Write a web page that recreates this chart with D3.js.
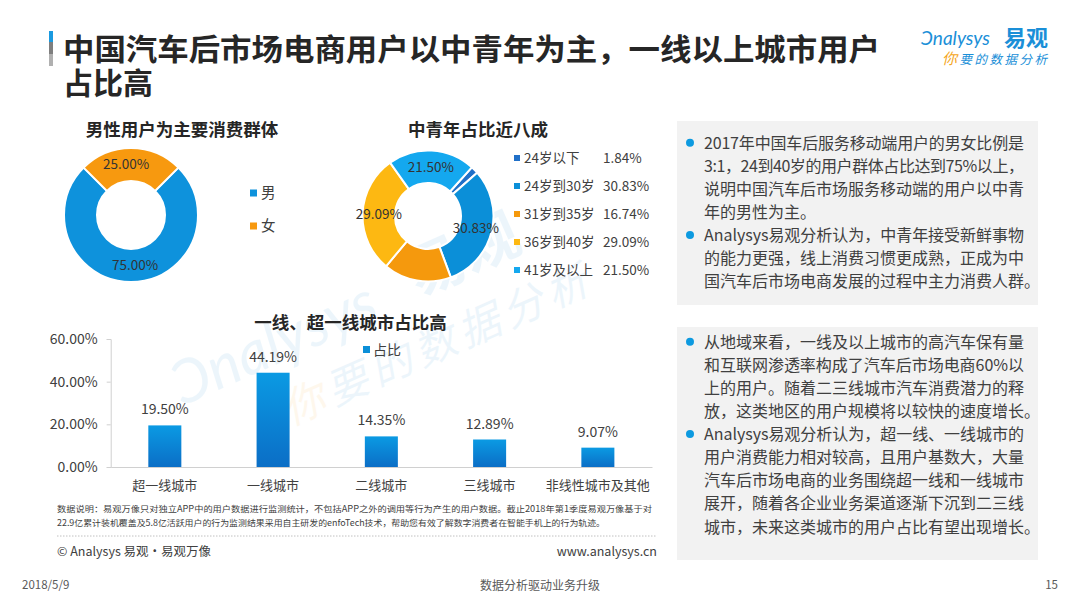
<!DOCTYPE html>
<html><head><meta charset="utf-8">
<script src="https://cdn.jsdelivr.net/npm/d3@7"></script>
<style>
html,body{margin:0;padding:0;background:#fff;}
svg{display:block;font-family:"Noto Sans CJK SC","Noto Sans",sans-serif;}
</style></head>
<body>
<svg id="c" width="1080" height="608"></svg>
<script>
// ---------- data ----------
const genderCats = ["男", "女"];
const genderVals = [75.00, 25.00];
const ageCats = ["24岁以下", "24岁到30岁", "31岁到35岁", "36岁到40岁", "41岁及以上"];
const ageVals = [1.84, 30.83, 16.74, 29.09, 21.50];
const ageShowLabel = [false, true, false, true, true];
const cityCats = ["超一线城市", "一线城市", "二线城市", "三线城市", "非线性城市及其他"];
const cityVals = [19.50, 44.19, 14.35, 12.89, 9.07];
const yTicks = [0, 20, 40, 60];
const titleLines = ["中国汽车后市场电商用户以中青年为主，一线以上城市用户", "占比高"];
const panel1 = [
  ["2017年中国车后服务移动端用户的男女比例是", "3:1，24到40岁的用户群体占比达到75%以上，", "说明中国汽车后市场服务移动端的用户以中青", "年的男性为主。"],
  ["Analysys易观分析认为，中青年接受新鲜事物", "的能力更强，线上消费习惯更成熟，正成为中", "国汽车后市场电商发展的过程中主力消费人群。"]
];
const panel2 = [
  ["从地域来看，一线及以上城市的高汽车保有量", "和互联网渗透率构成了汽车后市场电商60%以", "上的用户。随着二三线城市汽车消费潜力的释", "放，这类地区的用户规模将以较快的速度增长。"],
  ["Analysys易观分析认为，超一线、一线城市的", "用户消费能力相对较高，且用户基数大，大量", "汽车后市场电商的业务围绕超一线和一线城市", "展开，随着各企业业务渠道逐渐下沉到二三线", "城市，未来这类城市的用户占比有望出现增长。"]
];
const footnote = [
  "数据说明：易观万像只对独立APP中的用户数据进行监测统计，不包括APP之外的调用等行为产生的用户数据。截止2018年第1季度易观万像基于对",
  "22.9亿累计装机覆盖及5.8亿活跃用户的行为监测结果采用自主研发的enfoTech技术，帮助您有效了解数字消费者在智能手机上的行为轨迹。"
];

// ---------- styles ----------
const genderColors = ["#0e92dc", "#f7990f"];
const ageColors = ["#2070c8", "#0b8fd8", "#f5990d", "#fdb812", "#14a8ef"];
const txt = "#404040";

const svg = d3.select("#c");
const defs = svg.append("defs");
const grad = defs.append("linearGradient").attr("id", "barg").attr("x1", 0).attr("y1", 0).attr("x2", 0).attr("y2", 1);
grad.append("stop").attr("offset", "0%").attr("stop-color", "#0b9ae3");
grad.append("stop").attr("offset", "100%").attr("stop-color", "#0b6ec6");

// ---------- watermark ----------
const wm = svg.append("g").attr("transform", "translate(320,345) rotate(-24)").attr("opacity", 0.08);
wm.append("text").attr("x", -150).attr("y", 0).attr("font-size", 60).attr("font-style", "italic")
  .attr("fill", "#1a8fd8").attr("font-family", "Lato, sans-serif").text("Ͻnalysys");
wm.append("text").attr("x", 110).attr("y", -4).attr("font-size", 58).attr("font-weight", 700)
  .attr("fill", "#1a8fd8").text("易观");
wm.append("text").attr("x", -60).attr("y", 62).attr("font-size", 42).attr("font-style", "italic")
  .attr("fill", "#1a8fd8").attr("letter-spacing", 6)
  .html('<tspan fill="#f5a623">你</tspan>要的数据分析');

// ---------- header ----------
svg.append("rect").attr("x", 49).attr("y", 31).attr("width", 4).attr("height", 11).attr("fill", "#1a9ae0");
svg.append("rect").attr("x", 49).attr("y", 42).attr("width", 4).attr("height", 12).attr("fill", "#7f7f7f");
svg.append("rect").attr("x", 49).attr("y", 54).attr("width", 4).attr("height", 12).attr("fill", "#b0b0b0");
svg.selectAll("text.title").data(titleLines).join("text").attr("class", "title")
  .attr("x", 63).attr("y", (d, i) => 60 + i * 34)
  .attr("font-family", '"Liberation Sans","Noto Sans CJK SC",sans-serif')
  .attr("font-size", 30).attr("font-weight", 700).attr("fill", "#262626")
  .attr("textLength", (d, i) => i === 0 ? 817 : null)
  .attr("lengthAdjust", "spacingAndGlyphs").text(d => d);

// logo
svg.append("text").attr("x", 921).attr("y", 45).attr("font-size", 19).attr("fill", "#1a8fd8")
  .attr("font-family", "Lato, sans-serif").attr("font-style", "italic").text("Ͻnalysys");
svg.append("text").attr("x", 1004).attr("y", 46).attr("font-size", 22).attr("font-weight", 700).attr("fill", "#1a8fd8").text("易观");
svg.append("text").attr("x", 942).attr("y", 64).attr("font-size", 12.5).attr("font-style", "italic").attr("fill", "#1a8fd8")
  .attr("letter-spacing", 2.5)
  .html('<tspan fill="#f5a623" font-size="15">你</tspan>要的数据分析');

// ---------- gender donut ----------
const g1 = svg.append("g").attr("transform", "translate(131,215)");
const pie1 = d3.pie().sort(null).startAngle(Math.PI / 4).endAngle(Math.PI / 4 + 2 * Math.PI);
const arc1 = d3.arc().innerRadius(34).outerRadius(67);
const arcs1 = pie1(genderVals);
const lblShift1 = [4, -5];
g1.selectAll("path").data(arcs1).join("path").attr("d", arc1)
  .attr("fill", (d, i) => genderColors[i]).attr("stroke", "#fff").attr("stroke-width", 2);
g1.selectAll("text").data(arcs1).join("text")
  .attr("transform", (d, i) => { const c = arc1.centroid(d); return `translate(${c[0] + lblShift1[i]},${c[1]})`; })
  .attr("dy", "0.35em")
  .attr("text-anchor", "middle").attr("font-size", 13.5).attr("fill", "#333").text(d => d.data.toFixed(2) + "%");
svg.append("text").attr("x", 182).attr("y", 136).attr("text-anchor", "middle").attr("font-size", 17.5)
  .attr("font-weight", 700).attr("fill", "#262626").text("男性用户为主要消费群体");
const lg1 = svg.selectAll("g.lg1").data(genderCats).join("g").attr("class", "lg1")
  .attr("transform", (d, i) => `translate(250,${193 + i * 33})`);
lg1.append("rect").attr("x", 0).attr("y", -3.5).attr("width", 7).attr("height", 7).attr("fill", (d, i) => genderColors[i]);
lg1.append("text").attr("x", 11).attr("dy", "0.36em").attr("font-size", 14.5).attr("fill", txt).text(d => d);

// ---------- age donut ----------
const a0 = 42 * Math.PI / 180;
const g2 = svg.append("g").attr("transform", "translate(428,216)");
const pie2 = d3.pie().sort(null).startAngle(a0).endAngle(a0 + 2 * Math.PI);
const arc2 = d3.arc().innerRadius(33).outerRadius(65.5);
const arcs2 = pie2(ageVals);
g2.selectAll("path").data(arcs2).join("path").attr("d", arc2)
  .attr("fill", (d, i) => ageColors[i]).attr("stroke", "#fff").attr("stroke-width", 2);
g2.selectAll("text").data(arcs2.filter((d, i) => ageShowLabel[i])).join("text")
  .attr("transform", d => `translate(${arc2.centroid(d)})`).attr("dy", "0.35em")
  .attr("text-anchor", "middle").attr("font-size", 13.5).attr("fill", "#333").text(d => d.data.toFixed(2) + "%");
svg.append("text").attr("x", 478).attr("y", 136).attr("text-anchor", "middle").attr("font-size", 17.5)
  .attr("font-weight", 700).attr("fill", "#262626").text("中青年占比近八成");
const lg2 = svg.selectAll("g.lg2").data(ageCats).join("g").attr("class", "lg2")
  .attr("transform", (d, i) => `translate(514,${158 + i * 28})`);
lg2.append("rect").attr("x", 0).attr("y", -3).attr("width", 6).attr("height", 6).attr("fill", (d, i) => ageColors[i]);
lg2.append("text").attr("x", 10).attr("dy", "0.36em").attr("font-size", 13.5).attr("fill", txt).text(d => d);
lg2.append("text").attr("x", 89).attr("dy", "0.36em").attr("font-size", 13.5).attr("fill", txt)
  .text((d, i) => ageVals[i].toFixed(2) + "%");

// ---------- bar chart ----------
const x = d3.scaleBand().domain(cityCats).range([110.7, 652]);
const y = d3.scaleLinear().domain([0, 60]).range([467, 339]);
const bw = x.bandwidth() * 0.305;
const bars = svg.append("g");
bars.selectAll("rect").data(cityVals).join("rect")
  .attr("x", (d, i) => x(cityCats[i]) + (x.bandwidth() - bw) / 2).attr("width", bw)
  .attr("y", d => y(d)).attr("height", d => y(0) - y(d)).attr("fill", "url(#barg)");
bars.selectAll("text").data(cityVals).join("text")
  .attr("x", (d, i) => x(cityCats[i]) + x.bandwidth() / 2).attr("y", d => y(d) - 11)
  .attr("text-anchor", "middle").attr("font-size", 14).attr("fill", txt).text(d => d.toFixed(2) + "%");

const yAx = svg.append("g").attr("transform", "translate(110.7,0)")
  .call(d3.axisLeft(y).tickValues(yTicks).tickSize(4).tickPadding(9).tickFormat(d => d.toFixed(2) + "%"));
yAx.select(".domain").attr("stroke", "#d0d0d0");
yAx.selectAll(".tick line").attr("stroke", "#d0d0d0");
yAx.selectAll(".tick text").attr("font-size", 14).attr("fill", txt).attr("font-family", '"Noto Sans CJK SC",sans-serif');
const xAx = svg.append("g").attr("transform", "translate(0,467)")
  .call(d3.axisBottom(x).tickSize(0).tickPadding(14));
xAx.select(".domain").attr("stroke", "#d0d0d0");
xAx.selectAll(".tick text").attr("font-size", 13).attr("fill", txt).attr("font-family", '"Noto Sans CJK SC",sans-serif');

svg.append("text").attr("x", 350.5).attr("y", 329).attr("text-anchor", "middle").attr("font-size", 17.5)
  .attr("font-weight", 700).attr("fill", "#262626").text("一线、超一线城市占比高");
svg.append("rect").attr("x", 363).attr("y", 346).attr("width", 7).attr("height", 7).attr("fill", "#0b8fd8");
svg.append("text").attr("x", 373).attr("y", 355).attr("font-size", 14).attr("fill", txt).text("占比");

// ---------- footnote / footer ----------
svg.selectAll("text.fn").data(footnote).join("text").attr("class", "fn")
  .attr("x", 57).attr("y", (d, i) => 512 + i * 13.5).attr("font-size", 8.5).attr("fill", "#404040")
  .attr("textLength", (d, i) => i === 0 ? 595 : 548).attr("lengthAdjust", "spacingAndGlyphs").text(d => d);
svg.append("line").attr("x1", 57).attr("x2", 656).attr("y1", 536).attr("y2", 536)
  .attr("stroke", "#b0b0b0").attr("stroke-width", 0.8).attr("stroke-dasharray", "1.5,1.5");
svg.append("text").attr("x", 57).attr("y", 556).attr("font-size", 12.5).attr("fill", txt).text("© Analysys 易观·易观万像");
svg.append("text").attr("x", 657).attr("y", 556).attr("text-anchor", "end").attr("font-size", 12.5).attr("fill", txt).text("www.analysys.cn");
svg.append("text").attr("x", 22).attr("y", 589).attr("font-size", 11.5).attr("fill", "#595959").text("2018/5/9");
svg.append("text").attr("x", 540).attr("y", 590).attr("text-anchor", "middle").attr("font-size", 12).attr("fill", "#595959").text("数据分析驱动业务升级");
svg.append("text").attr("x", 1058).attr("y", 589).attr("text-anchor", "end").attr("font-size", 11.5).attr("fill", "#595959").text("15");

// ---------- text panels ----------
function panel(y0, h, paras, firstLineY) {
  const g = svg.append("g");
  g.append("rect").attr("x", 677).attr("y", y0).attr("width", 361).attr("height", h).attr("fill", "#f2f2f2");
  let k = 0;
  paras.forEach(p => {
    p.forEach((line, j) => {
      const yy = firstLineY + k * 23.1;
      if (j === 0) g.append("circle").attr("cx", 690).attr("cy", yy).attr("r", 4).attr("fill", "#0d9ae0");
      const t = g.append("text").attr("x", 704).attr("y", yy + 6).attr("font-size", 16).attr("fill", txt).text(line);
      if (j < p.length - 1) t.attr("textLength", 320).attr("lengthAdjust", "spacing");
      k++;
    });
  });
}
panel(121, 184, panel1, 142.7);
panel(327, 233, panel2, 341.7);
</script>
</body></html>
